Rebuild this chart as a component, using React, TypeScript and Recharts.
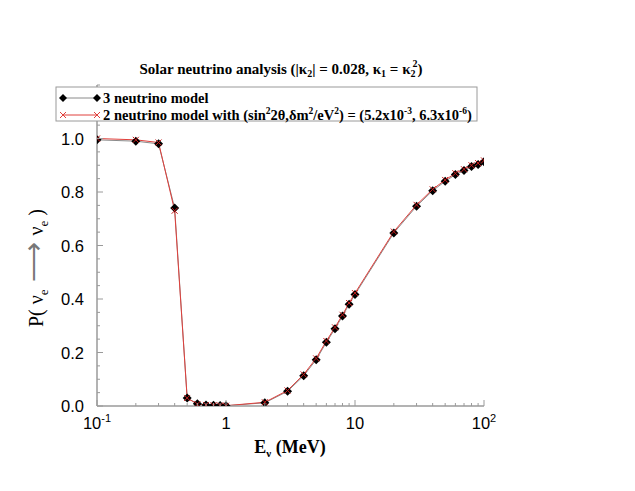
import { LineChart, Line, XAxis, YAxis } from "recharts";

// neutrino energy (MeV)
const energies = [0.1, 0.2, 0.3, 0.4, 0.5, 0.6, 0.7, 0.8, 0.9, 1, 2, 3, 4, 5, 6, 7, 8, 9, 10, 20, 30, 40, 50, 60, 70, 80, 90, 100];
// survival probability, 3 neutrino model
const threeNu = [0.995, 0.99, 0.98, 0.74, 0.03, 0.008, 0.004, 0.003, 0.002, 0.001, 0.012, 0.055, 0.113, 0.173, 0.238, 0.289, 0.336, 0.38, 0.417, 0.647, 0.747, 0.805, 0.84, 0.865, 0.88, 0.895, 0.903, 0.913];
// survival probability, 2 neutrino model
const twoNu = [1.0, 0.995, 0.985, 0.73, 0.03, 0.007, 0.004, 0.003, 0.002, 0.001, 0.014, 0.058, 0.118, 0.178, 0.243, 0.294, 0.341, 0.385, 0.422, 0.652, 0.752, 0.81, 0.845, 0.87, 0.885, 0.9, 0.908, 0.918];

const xMajor = [0.1, 1, 10, 100];
const xTicks = [0.1, 0.2, 0.3, 0.4, 0.5, 0.6, 0.7, 0.8, 0.9, 1, 2, 3, 4, 5, 6, 7, 8, 9, 10, 20, 30, 40, 50, 60, 70, 80, 90, 100];
const yMajor = [0, 0.2, 0.4, 0.6, 0.8, 1.0];
const yTicks = [0, 0.05, 0.1, 0.15, 0.2, 0.25, 0.3, 0.35, 0.4, 0.45, 0.5, 0.55, 0.6, 0.65, 0.7, 0.75, 0.8, 0.85, 0.9, 0.95, 1.0, 1.05, 1.1, 1.15, 1.2];

const rows = energies.map((e, i) => ({ e, three: threeNu[i], two: twoNu[i] }));

const AXIS = "#9a9a9a";
const SERIF = "'Liberation Serif', 'Times New Roman', serif";
const SANS = "'Liberation Sans', Arial, sans-serif";

const isMajor = (list: number[], v: number) => list.some((m) => Math.abs(m - v) < 1e-9);

function xLabel(v: number) {
  if (v === 0.1) return <>10<tspan dy={-7} fontSize={11}>-1</tspan></>;
  if (v === 100) return <>10<tspan dy={-7} fontSize={11}>2</tspan></>;
  return <>{v}</>;
}

const BottomTick = (props: any) => {
  const { x, y, payload } = props;
  const major = isMajor(xMajor, payload.value);
  return (
    <g>
      <line x1={x} x2={x} y1={y} y2={y - (major ? 6 : 3)} stroke={AXIS} strokeWidth={1} />
      {major && (
        <text x={x} y={y + 23} textAnchor="middle" fontFamily={SANS} fontSize={16.5} fill="#000">
          {xLabel(payload.value)}
        </text>
      )}
    </g>
  );
};

const TopTick = (props: any) => {
  const { x, y, payload } = props;
  const major = isMajor(xMajor, payload.value);
  return <line x1={x} x2={x} y1={y} y2={y + (major ? 6 : 3)} stroke={AXIS} strokeWidth={1} />;
};

const LeftTick = (props: any) => {
  const { x, y, payload } = props;
  const major = isMajor(yMajor, payload.value);
  return (
    <g>
      <line x1={x} x2={x + (major ? 6 : 3)} y1={y} y2={y} stroke={AXIS} strokeWidth={1} />
      {major && (
        <text x={x - 13} y={y + 6} textAnchor="end" fontFamily={SANS} fontSize={16.5} fill="#000">
          {payload.value.toFixed(1)}
        </text>
      )}
    </g>
  );
};

const RightTick = (props: any) => {
  const { x, y, payload } = props;
  const major = isMajor(yMajor, payload.value);
  return <line x1={x} x2={x - (major ? 6 : 3)} y1={y} y2={y} stroke={AXIS} strokeWidth={1} />;
};

const Diamond = (props: any) => {
  const { cx, cy } = props;
  if (cx == null || cy == null) return null;
  const r = 4.5;
  return <polygon points={`${cx},${cy - r} ${cx + r},${cy} ${cx},${cy + r} ${cx - r},${cy}`} fill="#000" />;
};

const Cross = (props: any) => {
  const { cx, cy } = props;
  if (cx == null || cy == null) return null;
  const r = 3;
  return (
    <g stroke="#c81e1e" strokeWidth={1}>
      <line x1={cx - r} y1={cy - r} x2={cx + r} y2={cy + r} />
      <line x1={cx - r} y1={cy + r} x2={cx + r} y2={cy - r} />
    </g>
  );
};

export default function App() {
  return (
    <div style={{ position: "absolute", left: 0, top: 0, width: 635, height: 491, background: "#fff" }}>
      <LineChart width={635} height={491} data={rows} margin={{ top: 85, right: 151, bottom: 0, left: 0 }}>
        <XAxis
          dataKey="e"
          type="number"
          scale="log"
          domain={[0.1, 100]}
          allowDataOverflow
          ticks={xTicks}
          interval={0}
          tickSize={0}
          tickMargin={0}
          tickLine={false}
          tick={<BottomTick />}
          axisLine={{ stroke: AXIS, strokeWidth: 1.5 }}
          height={85}
        />
        <XAxis
          xAxisId="top"
          orientation="top"
          dataKey="e"
          type="number"
          scale="log"
          domain={[0.1, 100]}
          allowDataOverflow
          ticks={xTicks}
          interval={0}
          tickSize={0}
          tickMargin={0}
          tickLine={false}
          tick={<TopTick />}
          axisLine={{ stroke: AXIS, strokeWidth: 1.5 }}
          height={0}
        />
        <YAxis
          type="number"
          domain={[0, 1.2]}
          allowDataOverflow
          ticks={yTicks}
          interval={0}
          tickSize={0}
          tickMargin={0}
          tickLine={false}
          tick={<LeftTick />}
          axisLine={{ stroke: AXIS, strokeWidth: 1.5 }}
          width={97}
        />
        <YAxis
          yAxisId="right"
          orientation="right"
          type="number"
          domain={[0, 1.2]}
          allowDataOverflow
          ticks={yTicks}
          interval={0}
          tickSize={0}
          tickMargin={0}
          tickLine={false}
          tick={<RightTick />}
          axisLine={{ stroke: AXIS, strokeWidth: 1.5 }}
          width={0}
        />
        <Line dataKey="three" stroke="#8a8a8a" strokeWidth={1} dot={<Diamond />} isAnimationActive={false} />
        <Line dataKey="two" stroke="#e0403c" strokeWidth={1} dot={<Cross />} isAnimationActive={false} />
      </LineChart>

      <svg width={635} height={491} style={{ position: "absolute", left: 0, top: 0, pointerEvents: "none" }}>
        {/* title */}
        <text x={281} y={74} textAnchor="middle" fontFamily={SERIF} fontWeight="bold" fontSize={15} fill="#000">
          Solar neutrino analysis (|κ<tspan dy={3} fontSize={10}>2</tspan>
          <tspan dy={-3}>| = 0.028, κ</tspan>
          <tspan dy={3} fontSize={10}>1</tspan>
          <tspan dy={-3}> = κ</tspan>
          <tspan dy={3} fontSize={10}>2</tspan>
          <tspan dx={-3} dy={-10} fontSize={10}>2</tspan>
          <tspan dy={7}>)</tspan>
        </text>

        {/* legend */}
        <rect x={56} y={87} width={421} height={34} fill="#fff" stroke={AXIS} strokeWidth={1} />
        <line x1={63} x2={97} y1={98} y2={98} stroke="#8a8a8a" strokeWidth={1} />
        <polygon points="63,94 67,98 63,102 59,98" fill="#000" />
        <polygon points="97,94 101,98 97,102 93,98" fill="#000" />
        <text x={103} y={103} fontFamily={SERIF} fontWeight="bold" fontSize={14.5} fill="#000">3 neutrino model</text>
        <line x1={63} x2={97} y1={115} y2={115} stroke="#e0403c" strokeWidth={1} />
        <g stroke="#e0403c" strokeWidth={1}>
          <line x1={60} y1={112} x2={66} y2={118} />
          <line x1={60} y1={118} x2={66} y2={112} />
          <line x1={94} y1={112} x2={100} y2={118} />
          <line x1={94} y1={118} x2={100} y2={112} />
        </g>
        <text x={103} y={120} fontFamily={SERIF} fontWeight="bold" fontSize={14.5} fill="#000">
          2 neutrino model with (sin<tspan dy={-6} fontSize={9.5}>2</tspan>
          <tspan dy={6}>2θ,δm</tspan>
          <tspan dy={-6} fontSize={9.5}>2</tspan>
          <tspan dy={6}>/eV</tspan>
          <tspan dy={-6} fontSize={9.5}>2</tspan>
          <tspan dy={6}>) = (5.2x10</tspan>
          <tspan dy={-6} fontSize={9.5}>-3</tspan>
          <tspan dy={6}>, 6.3x10</tspan>
          <tspan dy={-6} fontSize={9.5}>-6</tspan>
          <tspan dy={6}>)</tspan>
        </text>

        {/* x axis title */}
        <text x={290} y={453} textAnchor="middle" fontFamily={SERIF} fontWeight="bold" fontSize={18} fill="#000">
          E<tspan dy={4} fontSize={11}>ν</tspan>
          <tspan dy={-4}> (MeV)</tspan>
        </text>

        {/* y axis title */}
        <text transform="translate(43,268) rotate(-90)" textAnchor="middle" fontFamily={SERIF} fontSize={20} fill="#000">
          P(  ν<tspan dy={5} fontSize={13}>e</tspan>
          <tspan dy={-5} fill="#777" fontSize={28}> ⟶ </tspan>
          <tspan fontSize={20}>ν</tspan>
          <tspan dy={5} fontSize={13}>e</tspan>
          <tspan dy={-5}>  )</tspan>
        </text>
      </svg>
    </div>
  );
}
